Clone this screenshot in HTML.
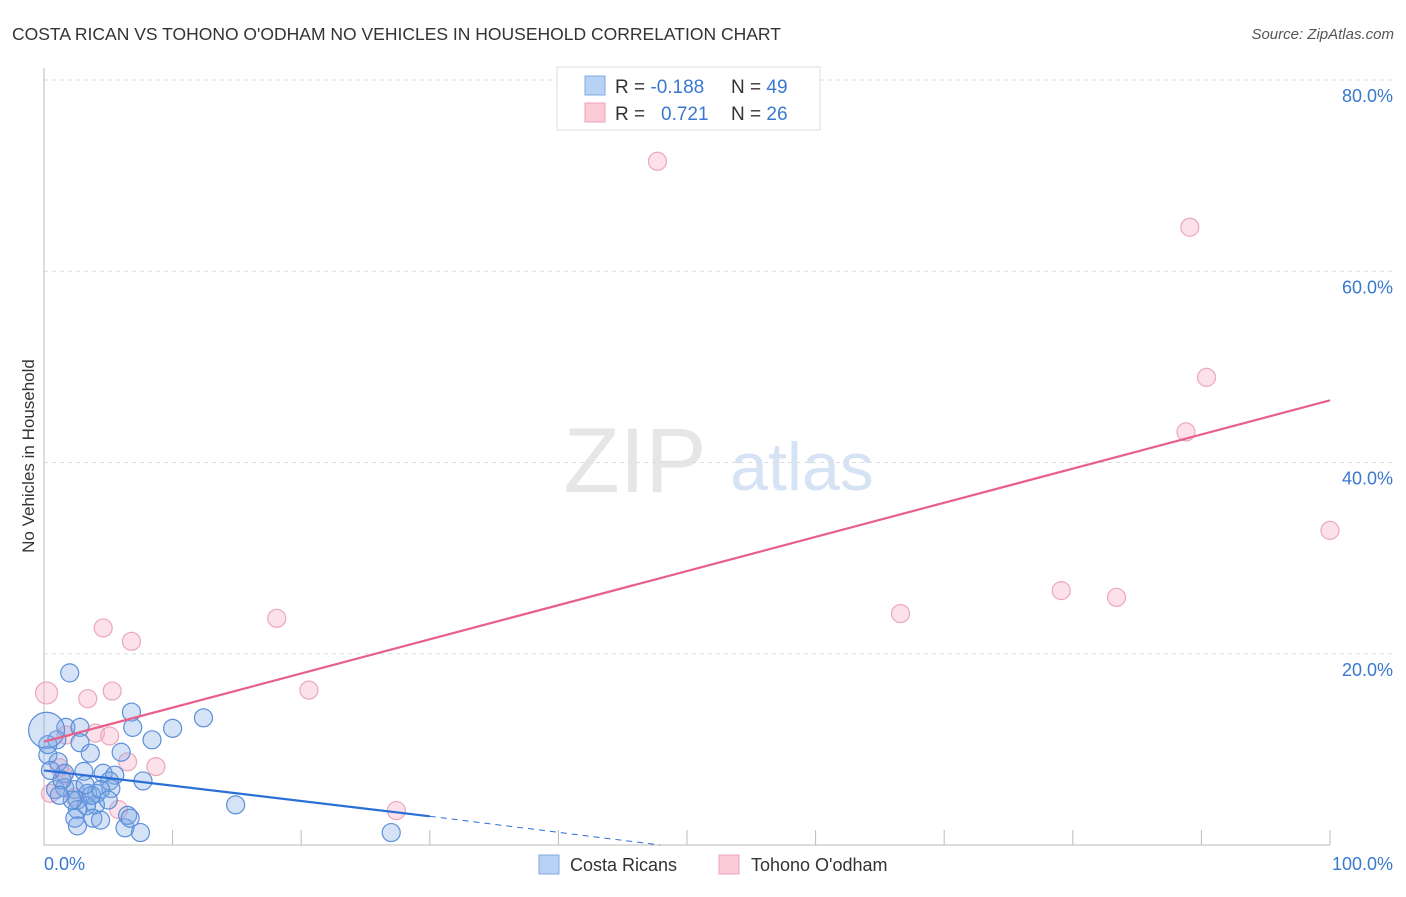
<!DOCTYPE html>
<html><head><meta charset="utf-8"><style>
body{margin:0;background:#fff;font-family:"Liberation Sans",sans-serif;}
svg text{font-family:"Liberation Sans",sans-serif;}
</style></head><body>
<svg id="c" width="1406" height="892" xmlns="http://www.w3.org/2000/svg">
<text x="12" y="40" font-size="17.5" fill="#333">COSTA RICAN VS TOHONO O'ODHAM NO VEHICLES IN HOUSEHOLD CORRELATION CHART</text>
<text x="1394" y="39" font-size="15" fill="#555" text-anchor="end" font-style="italic">Source: ZipAtlas.com</text>
<text x="34" y="456" font-size="17" fill="#333" text-anchor="middle" transform="rotate(-90 34 456)">No Vehicles in Household</text>
<text x="635" y="492" font-size="92" fill="#e6e6e6" font-family="Liberation Serif" text-anchor="middle">ZIP</text>
<text x="802" y="490" font-size="68" fill="#d6e3f5" text-anchor="middle">atlas</text>
<g id="grid"></g><g id="marks"></g>
<g>
<rect x="557" y="67" width="263" height="63" fill="#fff" stroke="#ddd"/>
<rect x="585" y="76" width="20" height="19" fill="#b8d2f5" stroke="#7fa8e0"/>
<rect x="585" y="103" width="20" height="19" fill="#fbcbd8" stroke="#eda3b8"/>
<text x="615" y="93" font-size="19" fill="#333">R = <tspan fill="#3a78d0">-0.188</tspan><tspan x="731">N = </tspan><tspan fill="#3a78d0">49</tspan></text>
<text x="615" y="120" font-size="19" fill="#333">R = <tspan x="661" fill="#3a78d0">0.721</tspan><tspan x="731">N = </tspan><tspan fill="#3a78d0">26</tspan></text>
</g>
<g>
<rect x="539" y="855" width="20" height="19" fill="#b8d2f5" stroke="#7fa8e0"/>
<text x="570" y="871" font-size="18" fill="#333">Costa Ricans</text>
<rect x="719" y="855" width="20" height="19" fill="#fbcbd8" stroke="#eda3b8"/>
<text x="751" y="871" font-size="18" fill="#333">Tohono O'odham</text>
</g>
</svg>
<script>
const yTicks=[20,40,60,80];
const xTickLabels=["0.0%","100.0%"];
const blueX=[2.0,1.7,2.8,1.0,6.8,6.9,12.4,10.0,8.4,2.8,3.6,6.0,0.3,1.1,1.6,3.1,4.6,5.5,5.1,7.7,0.9,1.6,2.4,3.4,4.1,5.2,2.6,4.0,3.3,2.6,2.4,3.8,4.4,2.6,6.3,6.5,7.5,14.9,27.0,0.3,1.4,3.7,6.7,4.4,3.2,2.2,1.2,5.0,0.5];
const blueY=[18.0,12.3,12.3,11.0,13.9,12.3,13.3,12.2,11.0,10.7,9.6,9.7,9.4,8.7,7.5,7.7,7.5,7.3,6.7,6.7,5.8,6.0,5.8,5.4,5.4,5.9,4.7,4.2,4.1,3.7,2.8,2.8,2.6,2.0,1.8,3.1,1.3,4.2,1.3,10.5,6.8,5.2,2.8,5.8,6.3,4.7,5.2,4.7,7.8];
const pinkX=[47.7,89.1,90.4,88.8,100,79.1,83.4,66.6,18.1,4.6,6.8,0.2,3.4,5.3,20.6,4.0,5.1,1.7,6.5,8.7,1.2,2.4,0.5,5.8,27.4,1.5];
const pinkY=[71.5,64.6,48.9,43.2,32.9,26.6,25.9,24.2,23.7,22.7,21.3,15.9,15.3,16.1,16.2,11.7,11.4,11.5,8.7,8.2,8.1,5.0,5.4,3.7,3.6,7.3];
const pinkTrend=[10.8,46.5];
const blueTrend=[7.8,3.0,0.0];
const blueTrendX=[0,30,47.9];
const NS="http://www.w3.org/2000/svg";
const X=v=>44+v*12.86, Y=v=>845-v*9.5625;
function mk(t,a,p){const e=document.createElementNS(NS,t);for(const k in a)e.setAttribute(k,a[k]);(p||document.getElementById('marks')).appendChild(e);return e;}
const g=document.getElementById('grid');
yTicks.forEach(t=>{
 const l=mk('line',{x1:44,x2:1392,y1:Y(t),y2:Y(t),stroke:'#ddd','stroke-dasharray':'4,4'},g);
 
 
 const tx=mk('text',{x:1393,y:Y(t)+22,'font-size':18,fill:'#3a78d0','text-anchor':'end'},g);tx.textContent=t.toFixed(1)+'%';
 
 
});
const ax=mk('line',{x1:44,x2:44,y1:68,y2:845,stroke:'#bbb'},g);


const bx=mk('line',{x1:44,x2:1330,y1:845,y2:845,stroke:'#bbb'},g);


for(let i=1;i<=10;i++){const t=mk('line',{x1:X(i*10),x2:X(i*10),y1:830,y2:845,stroke:'#bbb'},g);
 
 }
[[0,'start'],[100,'end']].forEach((p,i)=>{const t=mk('text',{x:i?1393:44,y:870,'font-size':18,fill:'#3a78d0','text-anchor':p[1]},g);t.textContent=xTickLabels[i];
 
 });
pinkX.forEach((x,i)=>{const c=mk('circle',{cx:X(x),cy:Y(pinkY[i]),r:(i==11?11:9),fill:'rgba(246,170,195,0.35)',stroke:'#eba7bc','stroke-width':1.2});
 
 });
blueX.forEach((x,i)=>{const c=mk('circle',{cx:X(x),cy:Y(blueY[i]),r:(i==1&&false)?18:9,fill:'rgba(130,170,230,0.33)',stroke:'#5a8fd8','stroke-width':1.2});
 
 });
const big=mk('circle',{cx:X(0.2),cy:Y(12.0),r:18,fill:'rgba(130,170,230,0.33)',stroke:'#5a8fd8','stroke-width':1.2});


const pl=mk('line',{x1:X(0),y1:Y(pinkTrend[0]),x2:X(100),y2:Y(pinkTrend[1]),stroke:'#e8608a','stroke-width':2.2});


const bl=mk('line',{x1:X(blueTrendX[0]),y1:Y(blueTrend[0]),x2:X(blueTrendX[1]),y2:Y(blueTrend[1]),stroke:'#2a6fd6','stroke-width':2.2});


const bd=mk('line',{x1:X(blueTrendX[1]),y1:Y(blueTrend[1]),x2:X(blueTrendX[2]),y2:Y(blueTrend[2]),stroke:'#2a6fd6','stroke-width':1,'stroke-dasharray':'6,5'});


</script>
</body></html>
